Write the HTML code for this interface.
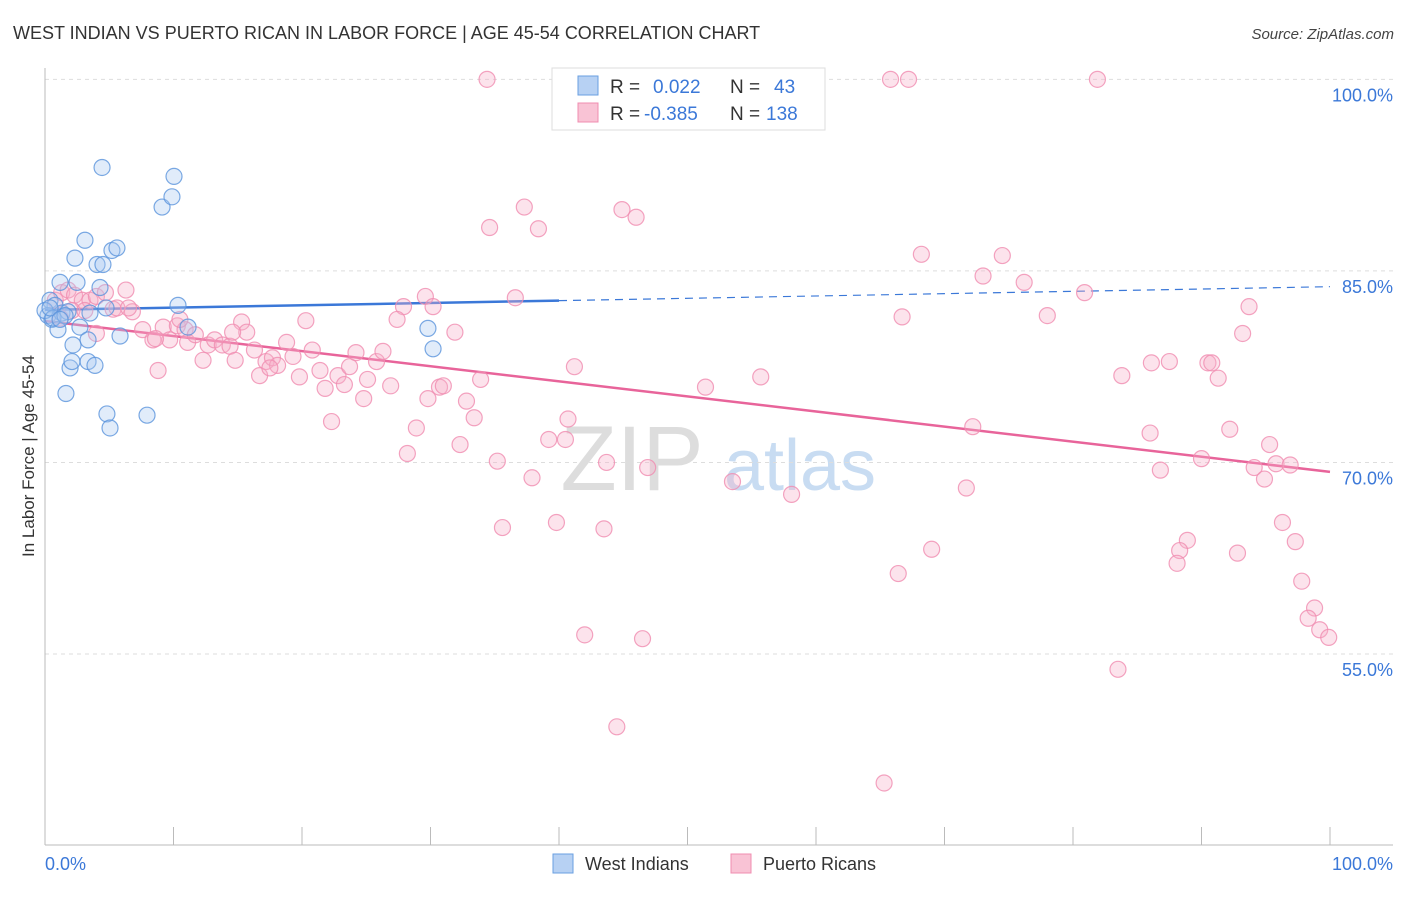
<!DOCTYPE html>
<html><head><meta charset="utf-8"><style>
body{margin:0;background:#fff;font-family:"Liberation Sans",sans-serif;}
svg text{font-family:"Liberation Sans",sans-serif;}
</style></head><body>
<svg id="chart" width="1406" height="892" xmlns="http://www.w3.org/2000/svg">
<text x="13" y="39" font-size="18" fill="#333">WEST INDIAN VS PUERTO RICAN IN LABOR FORCE | AGE 45-54 CORRELATION CHART</text>
<text x="1394" y="39" font-size="15" fill="#444" text-anchor="end" font-style="italic">Source: ZipAtlas.com</text>
<g>
<text x="632" y="490" font-size="92" fill="#ddd" text-anchor="middle" font-family="Liberation Serif">ZIP</text>
<text x="800" y="490" font-size="72" fill="#c8dcf2" text-anchor="middle">atlas</text>
</g>
<g id="grid"></g>
<g id="axes"></g>
<g id="trend"></g>
<g id="points"></g>
<text transform="translate(34,456) rotate(-90)" font-size="17" fill="#333" text-anchor="middle">In Labor Force | Age 45-54</text>
<g>
<rect x="552" y="68" width="273" height="62" fill="#fff" stroke="#ddd"/>
<rect x="578" y="76" width="20" height="19" fill="#b7d1f3" stroke="#6a9fe0"/>
<text x="610" y="93" font-size="19" fill="#333">R =</text><text x="653" y="93" font-size="19" fill="#3b78d8">0.022</text>
<text x="730" y="93" font-size="19" fill="#333">N =</text><text x="774" y="93" font-size="19" fill="#3b78d8">43</text>
<rect x="578" y="103" width="20" height="19" fill="#f9c3d5" stroke="#f08cb0"/>
<text x="610" y="120" font-size="19" fill="#333">R =</text><text x="644" y="120" font-size="19" fill="#3b78d8">-0.385</text>
<text x="730" y="120" font-size="19" fill="#333">N =</text><text x="766" y="120" font-size="19" fill="#3b78d8">138</text>
</g>
<g>
<rect x="553" y="854" width="20" height="19" fill="#b7d1f3" stroke="#6a9fe0"/>
<text x="585" y="870" font-size="18" fill="#333">West Indians</text>
<rect x="731" y="854" width="20" height="19" fill="#f9c3d5" stroke="#f08cb0"/>
<text x="763" y="870" font-size="18" fill="#333">Puerto Ricans</text>
</g>
</svg>
<script>
const yTicks=[55,70,85,100];
const yTickLabels=["55.0%","70.0%","85.0%","100.0%"];
const xTickVals=[0,10,20,30,40,50,60,70,80,90,100];
const xEndLabels=["0.0%","100.0%"];
const blueX=[0.39,0.78,0.23,0.54,1.17,1.32,1.01,1.79,2.33,2.49,2.72,1.95,2.18,2.10,1.63,3.11,3.35,3.35,3.50,3.89,4.05,4.28,4.44,4.51,4.75,4.82,5.06,5.21,5.60,5.84,7.94,9.11,9.88,10.04,10.35,11.13,29.8,30.2,0,0.62,1.56,0.39,1.17];
const blueY=[82.7,82.3,81.5,81.2,84.1,81.7,80.4,81.8,86.0,84.1,80.6,77.4,79.2,77.9,75.4,87.4,77.9,79.6,81.7,77.6,85.5,83.7,93.1,85.5,82.1,73.8,72.7,86.6,86.8,79.9,73.7,90.0,90.8,92.4,82.3,80.6,80.5,78.9,81.9,81.3,81.5,82.1,81.2];
const pinkX=[34.4,65.8,67.2,81.9,34.6,37.3,38.4,44.9,46.0,68.2,74.5,73.0,76.2,80.9,93.7,78.0,66.7,93.2,36.6,29.6,27.9,30.2,27.4,31.9,41.2,83.8,86.1,87.5,90.5,90.8,91.3,51.4,55.7,33.9,30.7,31.0,32.8,33.4,29.8,28.9,28.2,32.3,35.2,37.9,39.2,40.5,40.7,43.7,46.9,53.5,58.1,71.7,72.2,86.0,86.8,90.0,92.2,95.3,94.1,94.9,95.8,96.9,96.3,97.3,97.8,98.8,98.3,99.2,99.9,92.8,88.9,88.3,88.1,69.0,66.4,83.5,35.6,39.8,43.5,42.0,46.5,44.5,65.3,
0.8,1.3,1.8,2.3,2.9,3.5,4.0,4.7,5.3,6.3,6.8,7.6,8.4,8.8,9.2,9.7,10.3,10.9,11.1,11.7,12.3,12.7,13.2,13.8,14.4,14.8,15.3,15.7,16.3,16.7,17.2,17.7,18.1,18.8,19.3,19.8,20.3,20.8,21.4,21.8,22.3,22.8,23.3,23.7,24.2,24.8,25.1,25.8,26.3,26.9,2.1,3.1,5.6,4.0,6.5,1.2,8.6,10.5,14.6,17.5];
const pinkY=[100,100,100,100,88.4,90.0,88.3,89.8,89.2,86.3,86.2,84.6,84.1,83.3,82.2,81.5,81.4,80.1,82.9,83.0,82.2,82.2,81.2,80.2,77.5,76.8,77.8,77.9,77.8,77.8,76.6,75.9,76.7,76.5,75.9,76.0,74.8,73.5,75.0,72.7,70.7,71.4,70.1,68.8,71.8,71.8,73.4,70.0,69.6,68.5,67.5,68.0,72.8,72.3,69.4,70.3,72.6,71.4,69.6,68.7,69.9,69.8,65.3,63.8,60.7,58.6,57.8,56.9,56.3,62.9,63.9,63.1,62.1,63.2,61.3,53.8,64.9,65.3,64.8,56.5,56.2,49.3,44.9,
82.7,83.3,83.5,83.1,82.7,82.7,83.0,83.3,82.0,83.5,81.8,80.4,79.6,77.2,80.6,79.6,80.7,80.4,79.4,80.0,78.0,79.2,79.6,79.2,79.1,78.0,81.0,80.2,78.8,76.8,77.9,78.2,77.6,79.4,78.3,76.7,81.1,78.8,77.2,75.8,73.2,76.8,76.1,77.5,78.6,75.0,76.5,77.9,78.7,76.0,81.9,81.9,82.1,80.1,82.1,81.3,79.7,81.2,80.2,77.4];
const NS='http://www.w3.org/2000/svg';
const X0=45,X1=1330,Y55=654,PXPER=12.77;
const sx=v=>X0+(X1-X0)*v/100;
const sy=v=>Y55-(v-55)*PXPER;
function mk(tag,attrs,parent){const e=document.createElementNS(NS,tag);for(const k in attrs)e.setAttribute(k,attrs[k]);parent.appendChild(e);return e;}
const grid=document.getElementById('grid'),axes=document.getElementById('axes');
yTicks.forEach((t,i)=>{
 const l=mk('line',{x1:X0,x2:1393,y1:sy(t),y2:sy(t),stroke:'#ddd','stroke-dasharray':'4,4'},grid);
 
 
 const tx=mk('text',{x:1393,y:sy(t)+22,'font-size':18,fill:'#3b78d8','text-anchor':'end'},axes);
 tx.textContent=yTickLabels[i];
 
 
});
const ya=mk('line',{x1:X0,x2:X0,y1:68,y2:845,stroke:'#bbb'},axes);


const xa=mk('line',{x1:X0,x2:1393,y1:845,y2:845,stroke:'#bbb'},axes);


xTickVals.forEach(t=>{
 const l=mk('line',{x1:sx(t),x2:sx(t),y1:827,y2:845,stroke:'#bbb'},axes);
 
 
});
[[0,'start',45],[100,'end',1393]].forEach((d,i)=>{
 const tx=mk('text',{x:d[2],y:870,'font-size':18,fill:'#3b78d8','text-anchor':d[1]},axes);
 tx.textContent=xEndLabels[i];
 
 
});
function fit(xs,ys){const n=xs.length;let mx=0,my=0;for(let i=0;i<n;i++){mx+=xs[i];my+=ys[i];}mx/=n;my/=n;let a=0,b=0;for(let i=0;i<n;i++){a+=(xs[i]-mx)*(ys[i]-my);b+=(xs[i]-mx)**2;}const s=a/b;return x=>my+s*(x-mx);}
const tr=document.getElementById('trend'),pts=document.getElementById('points');
function dots(xs,ys,fill,stroke,name){xs.forEach((x,i)=>{const c=mk('circle',{cx:sx(x),cy:sy(ys[i]),r:8,fill:fill,'fill-opacity':0.35,stroke:stroke,'stroke-width':1.2,'stroke-opacity':0.8},pts);
 
 });}
dots(pinkX,pinkY,'#f7b0c8','#f08cb0','puerto-rican-point');
dots(blueX,blueY,'#a9c8f0','#5a94dc','west-indian-point');
const fb=fit(blueX,blueY),fp=fit(pinkX,pinkY);
const b1=mk('line',{x1:sx(0),y1:sy(fb(0)),x2:sx(40),y2:sy(fb(40)),stroke:'#3b78d8','stroke-width':2.5},tr);


const b2=mk('line',{x1:sx(40),y1:sy(fb(40)),x2:sx(100),y2:sy(fb(100)),stroke:'#3b78d8','stroke-width':1.2,'stroke-dasharray':'8,6'},tr);


const p1=mk('line',{x1:sx(0),y1:sy(fp(0)),x2:sx(100),y2:sy(fp(100)),stroke:'#e8649a','stroke-width':2.5},tr);


</script>
</body></html>
